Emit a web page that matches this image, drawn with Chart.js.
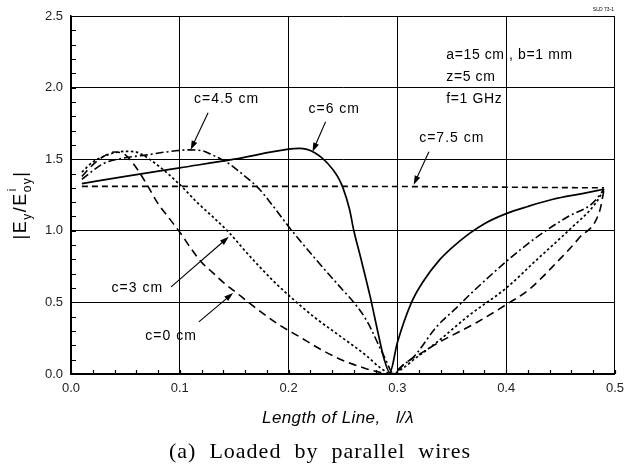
<!DOCTYPE html>
<html><head><meta charset="utf-8">
<script src="https://cdn.jsdelivr.net/npm/chart.js@4/dist/chart.umd.min.js"></script>
<style>html,body{margin:0;padding:0;background:#fff;}#wrap{width:631px;height:468px;}</style>
</head><body><div id="wrap"><canvas id="c" width="631" height="468"></canvas></div>
<script>
// ---- data ----
const xTickLabels = ['0.0','0.1','0.2','0.3','0.4','0.5'];
const yTickLabels = ['0.0','0.5','1.0','1.5','2.0','2.5'];
const seriesNames = ['c=0 cm','c=3 cm','c=4.5 cm','c=6 cm','c=7.5 cm'];

const c0X = [0.01,0.02,0.03,0.04,0.05,0.06,0.07,0.08,0.09,0.10,0.11,0.12,0.13,0.14,0.15,0.17,0.19,0.21,0.23,0.25,0.27,0.285,0.295,0.30,0.31,0.325,0.338,0.373,0.399,0.421,0.444,0.467,0.486,0.49];
const c0Y = [1.38,1.46,1.52,1.55,1.53,1.44,1.32,1.19,1.09,0.99,0.88,0.78,0.71,0.64,0.58,0.46,0.35,0.26,0.17,0.095,0.04,0.01,0.0,0.03,0.09,0.16,0.22,0.36,0.48,0.59,0.76,0.95,1.14,1.29];

const c3X = [0.01,0.02,0.03,0.04,0.05,0.06,0.066,0.081,0.099,0.117,0.13,0.145,0.16,0.172,0.186,0.20,0.224,0.25,0.272,0.284,0.295,0.305,0.315,0.336,0.366,0.40,0.427,0.457,0.482,0.49];
const c3Y = [1.41,1.48,1.52,1.545,1.555,1.55,1.53,1.45,1.33,1.19,1.10,0.99,0.86,0.76,0.65,0.55,0.395,0.25,0.125,0.045,0.0,0.04,0.10,0.22,0.41,0.60,0.79,1.0,1.19,1.29];

const c45X = [0.01,0.03,0.05,0.07,0.087,0.108,0.12,0.13,0.138,0.145,0.16,0.172,0.186,0.20,0.224,0.25,0.26,0.272,0.288,0.297,0.305,0.315,0.336,0.354,0.366,0.40,0.427,0.457,0.479,0.49];
const c45Y = [1.36,1.47,1.51,1.53,1.55,1.565,1.56,1.53,1.50,1.47,1.38,1.30,1.17,1.03,0.81,0.585,0.50,0.37,0.12,0.0,0.06,0.12,0.33,0.46,0.55,0.785,0.95,1.10,1.19,1.29];

const c6X = [0.01,0.05,0.10,0.15,0.20,0.21,0.224,0.236,0.245,0.25,0.256,0.26,0.266,0.275,0.283,0.288,0.293,0.30,0.313,0.325,0.338,0.35,0.366,0.38,0.40,0.42,0.443,0.47,0.49];
const c6Y = [1.33,1.38,1.44,1.50,1.57,1.575,1.545,1.47,1.38,1.30,1.15,1.0,0.82,0.54,0.26,0.10,0.01,0.22,0.50,0.66,0.79,0.88,0.98,1.05,1.12,1.17,1.22,1.26,1.29];

const c75X = [0.01,0.25,0.49];
const c75Y = [1.31,1.31,1.30];

const toPts = (xs, ys) => xs.map((x, i) => ({x, y: ys[i]}));
const FONT = "'Liberation Sans', Arial, Helvetica, sans-serif";

function dataset(name, xs, ys, dash, w) {
  return {label: name, data: toPts(xs, ys), showLine: true, borderColor: '#000',
    backgroundColor: '#000', borderWidth: w, borderDash: dash, pointRadius: 0,
    cubicInterpolationMode: 'monotone', fill: false};
}

function setLS(ctx, v) { if ('letterSpacing' in ctx) ctx.letterSpacing = v; }

const decor = {
  id: 'decor',
  afterDatasetsDraw(chart) {
    const ctx = chart.ctx, xs = chart.scales.x, ys = chart.scales.y, a = chart.chartArea;
    const X = v => xs.getPixelForValue(v), Y = v => ys.getPixelForValue(v);
    ctx.save();
    // minor inward ticks
    ctx.strokeStyle = '#000'; ctx.lineWidth = 1.2;
    ctx.beginPath();
    for (let k = 0; k <= 25; k++) {
      const px = Math.round(X(k * 0.02)) + 0.5;
      ctx.moveTo(px, a.bottom); ctx.lineTo(px, a.bottom - 4);
      const py = Math.round(Y(k * 0.1)) + 0.5;
      ctx.moveTo(a.left, py); ctx.lineTo(a.left + 5, py);
    }
    ctx.stroke();

    // annotations in data coordinates
    const notes = [
      {t: seriesNames[2], x: 0.143, y: 1.916, fx: 0.126, fy: 1.825, tx: 0.110, ty: 1.566},
      {t: seriesNames[3], x: 0.242, y: 1.853, fx: 0.234, fy: 1.762, tx: 0.222, ty: 1.552},
      {t: seriesNames[4], x: 0.350, y: 1.650, fx: 0.329, fy: 1.552, tx: 0.315, ty: 1.322},
      {t: seriesNames[1], x: 0.061, y: 0.601, fx: 0.092, fy: 0.608, tx: 0.145, ty: 0.958},
      {t: seriesNames[0], x: 0.092, y: 0.266, fx: 0.1175, fy: 0.364, tx: 0.149, ty: 0.566}
    ];
    ctx.fillStyle = '#000';
    ctx.font = '14px ' + FONT;
    ctx.textAlign = 'center'; ctx.textBaseline = 'middle';
    setLS(ctx, '1px');
    notes.forEach(n => {
      ctx.fillText(n.t, X(n.x), Y(n.y));
      const x1 = X(n.fx), y1 = Y(n.fy), x2 = X(n.tx), y2 = Y(n.ty);
      const ang = Math.atan2(y2 - y1, x2 - x1);
      ctx.lineWidth = 1.1;
      ctx.beginPath(); ctx.moveTo(x1, y1); ctx.lineTo(x2 - 6 * Math.cos(ang), y2 - 6 * Math.sin(ang)); ctx.stroke();
      ctx.beginPath();
      ctx.moveTo(x2, y2);
      ctx.lineTo(x2 - 9 * Math.cos(ang) + 3 * Math.sin(ang), y2 - 9 * Math.sin(ang) - 3 * Math.cos(ang));
      ctx.lineTo(x2 - 9 * Math.cos(ang) - 3 * Math.sin(ang), y2 - 9 * Math.sin(ang) + 3 * Math.cos(ang));
      ctx.closePath(); ctx.fill();
    });

    // parameter text
    ctx.textAlign = 'left';
    setLS(ctx, '0.6px');
    ctx.fillText('a=15 cm , b=1 mm', X(0.345), Y(2.224));
    ctx.fillText('z=5 cm', X(0.345), Y(2.07));
    ctx.fillText('f=1 GHz', X(0.345), Y(1.916));
    setLS(ctx, '0px');
    ctx.font = '5px ' + FONT; ctx.textAlign = 'right';
    ctx.fillText('SLD 73-1', a.right - 1, a.top - 6);

    // x title
    ctx.font = 'italic 17px ' + FONT; ctx.textAlign = 'center'; ctx.textBaseline = 'alphabetic';
    setLS(ctx, '0.4px');
    ctx.fillText('Length of Line,   l/\u03bb', 338, 423);

    // caption
    ctx.font = "22px 'Liberation Serif', 'Times New Roman', serif";
    setLS(ctx, '1px');
    ctx.fillText('(a)  Loaded  by  parallel  wires', 320, 458);

    // y title |E_y / E^i_oy|
    setLS(ctx, '1.5px');
    ctx.translate(26, 205); ctx.rotate(-Math.PI / 2);
    const parts = [
      {t: '|E', f: 18, dy: 0}, {t: 'y', f: 12, dy: 5}, {t: '/E', f: 18, dy: 0},
      {t: 'i', f: 12, dy: -10, sup: true}, {t: 'oy', f: 12, dy: 5}, {t: '|', f: 18, dy: 0}
    ];
    const widths = parts.map(p => { ctx.font = p.f + 'px ' + FONT; return ctx.measureText(p.t).width; });
    let total = 0;
    parts.forEach((p, i) => { if (!p.sup) total += widths[i]; });
    let cx = -total / 2;
    ctx.textAlign = 'left';
    parts.forEach((p, i) => {
      ctx.font = p.f + 'px ' + FONT;
      if (p.sup) { ctx.fillText(p.t, cx + 1, p.dy); return; }
      ctx.fillText(p.t, cx, p.dy);
      cx += widths[i];
    });
    setLS(ctx, '0px');
    ctx.restore();
  }
};

new Chart(document.getElementById('c'), {
  type: 'scatter',
  data: {datasets: [
    dataset(seriesNames[0], c0X, c0Y, [8, 5], 1.6),
    dataset(seriesNames[1], c3X, c3Y, [2.5, 2.5], 1.7),
    dataset(seriesNames[2], c45X, c45Y, [8, 3, 2, 3], 1.6),
    dataset(seriesNames[3], c6X, c6Y, [], 1.7),
    dataset(seriesNames[4], c75X, c75Y, [6, 4], 1.6)
  ]},
  options: {
    responsive: false, animation: false, devicePixelRatio: 1,
    layout: {padding: {left: 0, right: 11, top: 16, bottom: 0}},
    plugins: {legend: {display: false}, tooltip: {enabled: false}},
    scales: {
      x: {type: 'linear', min: 0, max: 0.5,
        afterFit: s => { s.height = 94; },
        ticks: {stepSize: 0.1, padding: 7, color: '#222', font: {family: FONT, size: 13},
          callback: v => xTickLabels[Math.round(v * 10)] ?? ''},
        grid: {color: '#000', lineWidth: 1, drawTicks: false},
        border: {display: true, color: '#000', width: 1.5}},
      y: {type: 'linear', min: 0, max: 2.5,
        afterFit: s => { s.width = 71; },
        ticks: {stepSize: 0.5, padding: 8, color: '#222', font: {family: FONT, size: 13},
          callback: v => yTickLabels[Math.round(v * 2)] ?? ''},
        grid: {color: '#000', lineWidth: 1, drawTicks: false},
        border: {display: true, color: '#000', width: 1.5}}
    }
  },
  plugins: [decor]
});
</script></body></html>
